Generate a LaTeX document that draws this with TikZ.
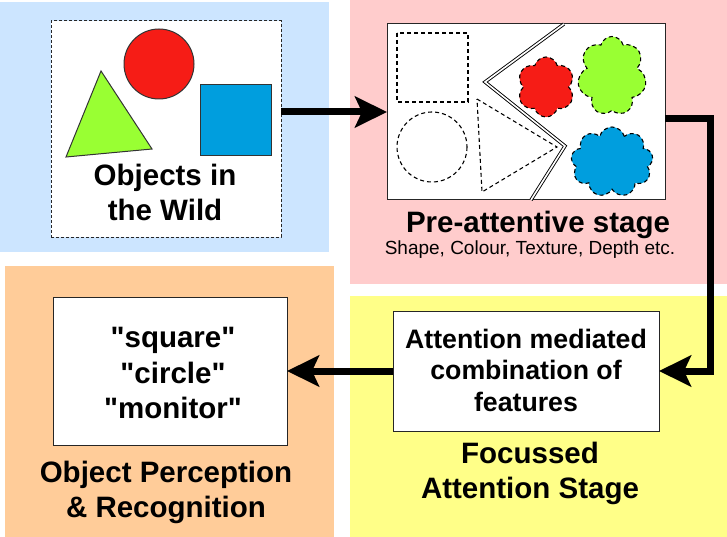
\documentclass[tikz,border=0pt]{standalone}
\usepackage{fontspec}
\setmainfont{Liberation Sans}[Ligatures=TeXOff]
\usetikzlibrary{arrows.meta,shapes.symbols}

\definecolor{panelblue}{RGB}{204,229,255}
\definecolor{panelpink}{RGB}{255,204,204}
\definecolor{panelyellow}{RGB}{255,255,136}
\definecolor{panelorange}{RGB}{255,204,153}
\definecolor{shapered}{RGB}{246,28,22}
\definecolor{shapegreen}{RGB}{153,255,51}
\definecolor{shapeblue}{RGB}{0,158,222}

\begin{document}
\begin{tikzpicture}[x=1pt, y=-1pt,
	box/.style={draw=black!85, fill=white, line width=1pt, inner sep=0pt, outer sep=0pt},
	box wild/.style={dash pattern=on 3pt off 2pt},
	outline/.style={draw=black!80, line width=1pt},
	ghost/.style={draw=black, line width=1.1pt, dash pattern=on 4pt off 3pt},
	blob/.style={cloud, ghost, inner sep=0pt, aspect=1, cloud puff arc=150},
	heading/.style={align=center, inner sep=0pt, font=\fontsize{29.5}{35}\selectfont\bfseries},
	flow/.style={line width=7pt, -{Stealth[length=32pt, width=31pt, inset=7pt]}}]

	\useasboundingbox (0,0) rectangle (727,537);

	% panels
	\fill[panelblue] (0,2) rectangle (329,252);
	\fill[panelpink] (350,0) rectangle (727,284);
	\fill[panelyellow] (350,296) rectangle (727,537);
	\fill[panelorange] (5,266) rectangle (334,537);

	% boxes
	\foreach \n/\x/\y/\w/\h in {wild/166/129/230/216, pre/526/112/278/176,
		attn/526/371/266/120, recog/170/371/234/148}
		\node [box, box \n/.try, minimum width=\w pt, minimum height=\h pt] (box-\n) at (\x,\y) {};

	% objects in the wild
	\draw[outline, fill=shapegreen] (66,157) -- (101,71) -- (152,149) -- cycle;
	\draw[outline, fill=shapered] (159,64) circle (35);
	\draw[outline, fill=shapeblue] (200,85) rectangle (271,156);

	% pre-attentive features
	\draw[ghost] (397,33) rectangle (468,102);
	\draw[ghost] (432,147) circle (35);
	\draw[ghost] (477,99) -- (557,147) -- (482,192) -- cycle;
	\draw[double, double distance=1.6pt, line width=0.9pt] (564,24) -- (485,82) -- (565,146) -- (531,200);
	\node[blob, cloud puffs=6, fill=shapered, minimum width=58pt, minimum height=60pt] (blob-red) at (546,87) {};
	\node[blob, cloud puffs=7, fill=shapegreen, minimum width=69pt, minimum height=79pt] (blob-green) at (612,76) {};
	\node[blob, cloud puffs=9, fill=shapeblue, minimum width=82pt, minimum height=70pt] (blob-blue) at (612,162) {};

	% texts
	\node[heading] (label-wild) at (165,192.5) {Objects in\\the Wild};
	\node[heading] (label-pre) at (538,225) {Pre-attentive stage};
	\node[inner sep=0pt, font=\fontsize{19}{22}\selectfont] (label-sub) at (530,250) {Shape, Colour, Texture, Depth etc.};
	\node[heading, font=\fontsize{26.7}{31.5}\selectfont\bfseries] (label-attn) at (526,370) {Attention mediated\\combination of\\features};
	\node[heading] (label-focus) at (530,473) {Focussed\\Attention Stage};
	\node[heading, font=\fontsize{29.5}{35.5}\selectfont\bfseries] (label-recog) at (173,373) {"square"\\"circle"\\"monitor"};
	\node[heading] (label-name) at (166,492) {Object Perception\\\& Recognition};

	% arrows
	\draw[flow] (box-wild.east |- box-pre.west) -- (box-pre.west);
	\draw[flow] ([yshift=-7pt]box-pre.east) -- ++(45,0) |- (box-attn.east);
	\draw[flow] (box-attn.west) -- (box-recog.east);

\end{tikzpicture}
\end{document}
